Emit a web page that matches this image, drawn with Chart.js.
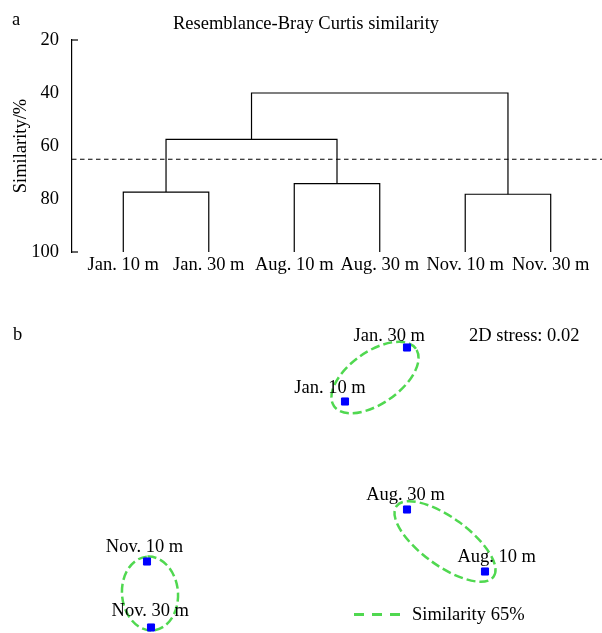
<!DOCTYPE html>
<html>
<head>
<meta charset="utf-8">
<script src="https://cdn.jsdelivr.net/npm/chart.js@4/dist/chart.umd.min.js"></script>
<style>
  html, body { margin: 0; padding: 0; background: #fff; }
  #wrap { position: relative; width: 602px; height: 633px; }
  canvas { position: absolute; left: 0; }
  #dendro { top: 0; }
  #nmds { top: 290px; }
</style>
</head>
<body>
<div id="wrap">
  <canvas id="dendro" width="602" height="290"></canvas>
  <canvas id="nmds" width="602" height="343"></canvas>
</div>
<script>
const samples = ["Jan. 10 m", "Jan. 30 m", "Aug. 10 m", "Aug. 30 m", "Nov. 10 m", "Nov. 30 m"];

// cluster tree, Bray-Curtis similarity %
const pairSimilarity = [77.4, 74.2, 78.2];   // Jan, Aug, Nov pairs
const janAugSimilarity = 57.5;
const rootSimilarity = 40;
const cutOff = 65;
const simTicks = [20, 40, 60, 80, 100];

// nMDS
const nmdsX = [0.22, 0.53, 0.92, 0.53, -0.77, -0.75];
const nmdsY = [0.30, 0.57, -0.55, -0.24, -0.50, -0.83];
const stress = 0.02;

// 65% groups: centre, semi axes, angle
const groupCx = [0.37, 0.72, -0.755];
const groupCy = [0.42, -0.40, -0.66];
const groupA = [0.25, 0.30, 0.185];
const groupB = [0.13, 0.12, 0.14];
const groupAngle = [35, -36, 95];

const black = "#000";
const green = "#50d850";
const blue = "#0000ff";
const font = { family: "'Liberation Serif', 'Times New Roman', serif", size: 18.5, weight: "normal" };
const fontStr = "18.5px 'Liberation Serif', 'Times New Roman', serif";

// ---- a: dendrogram ----
const xMin = -0.6, xMax = 5.6;
const mid = (a, b) => (a + b) / 2;

const links = [];
pairSimilarity.forEach((h, i) => {
  const l = 2 * i, r = 2 * i + 1;
  links.push([{ x: l, y: 100 }, { x: l, y: h }, { x: r, y: h }, { x: r, y: 100 }]);
});
const janMid = mid(0, 1), augMid = mid(2, 3), novMid = mid(4, 5);
links.push([
  { x: janMid, y: pairSimilarity[0] }, { x: janMid, y: janAugSimilarity },
  { x: augMid, y: janAugSimilarity }, { x: augMid, y: pairSimilarity[1] }
]);
const janAugMid = mid(janMid, augMid);
links.push([
  { x: janAugMid, y: janAugSimilarity }, { x: janAugMid, y: rootSimilarity },
  { x: novMid, y: rootSimilarity }, { x: novMid, y: pairSimilarity[2] }
]);

const treeSets = links.map(pts => ({
  data: pts, showLine: true, borderColor: black, borderWidth: 1.2,
  pointRadius: 0, tension: 0, fill: false
}));
treeSets.push({
  data: [{ x: xMin, y: cutOff }, { x: xMax, y: cutOff }],
  showLine: true, borderColor: black, borderWidth: 1.2, borderDash: [4.5, 3.5],
  pointRadius: 0, fill: false
});

const dendroDecor = {
  id: "dendroDecor",
  afterDraw(chart) {
    const { ctx, chartArea, scales } = chart;
    ctx.save();
    ctx.strokeStyle = black;
    ctx.lineWidth = 1.2;
    [scales.y.min, scales.y.max].forEach(v => {
      const y = scales.y.getPixelForValue(v);
      ctx.beginPath();
      ctx.moveTo(chartArea.left, y);
      ctx.lineTo(chartArea.left + 6, y);
      ctx.stroke();
    });
    ctx.fillStyle = black;
    ctx.font = fontStr;
    ctx.textBaseline = "alphabetic";
    ctx.fillText("a", 12, 25);
    ctx.restore();
  }
};

new Chart(document.getElementById("dendro"), {
  type: "scatter",
  data: { datasets: treeSets },
  options: {
    responsive: false,
    animation: false,
    layout: { padding: { left: 10, top: 0, right: 0, bottom: 0 }, autoPadding: false },
    scales: {
      x: {
        type: "linear", min: xMin, max: xMax,
        grid: { display: false, drawTicks: false },
        border: { display: false },
        afterBuildTicks: s => { s.ticks = samples.map((_, i) => ({ value: i })); },
        afterFit: s => { s.height = 38; },
        ticks: { padding: 2, autoSkip: false, maxRotation: 0, color: black, font, callback: v => samples[v] }
      },
      y: {
        reverse: true, min: 20, max: 100,
        afterBuildTicks: s => { s.ticks = simTicks.map(v => ({ value: v })); },
        afterFit: s => { s.width = 62; },
        grid: { display: false, drawTicks: false },
        border: { display: true, color: black, width: 1.2 },
        ticks: { padding: 13, color: black, font },
        title: { display: true, text: "Similarity/%", color: black, font, padding: { top: 0, bottom: 0 } }
      }
    },
    plugins: {
      legend: { display: false },
      tooltip: { enabled: false },
      title: {
        display: true, text: "Resemblance-Bray Curtis similarity", color: black, font,
        padding: { top: 12.7, bottom: 5.1 }
      }
    }
  },
  plugins: [dendroDecor]
});

// ---- b: nMDS ----
const labelDx = [-15, -17.7, 11.7, -1.5, -2.5, -0.7];
const labelDy = [-8.6, -7, -10, -10, -10, -11.7];

const nmdsDecor = {
  id: "nmdsDecor",
  beforeDatasetsDraw(chart) {
    const { ctx, scales } = chart;
    const kx = Math.abs(scales.x.getPixelForValue(1) - scales.x.getPixelForValue(0));
    const ky = Math.abs(scales.y.getPixelForValue(1) - scales.y.getPixelForValue(0));
    ctx.save();
    ctx.strokeStyle = green;
    ctx.lineWidth = 2.5;
    ctx.setLineDash([9, 4]);
    groupCx.forEach((cx, i) => {
      ctx.save();
      ctx.translate(scales.x.getPixelForValue(cx), scales.y.getPixelForValue(groupCy[i]));
      ctx.scale(kx, -ky);
      ctx.rotate(groupAngle[i] * Math.PI / 180);
      ctx.beginPath();
      ctx.ellipse(0, 0, groupA[i], groupB[i], 0, 0, 2 * Math.PI);
      ctx.restore();
      ctx.stroke();
    });
    ctx.restore();
  },
  afterDatasetsDraw(chart) {
    const { ctx } = chart;
    const pts = chart.getDatasetMeta(0).data;
    ctx.save();
    ctx.fillStyle = black;
    ctx.font = fontStr;
    ctx.textBaseline = "alphabetic";
    ctx.textAlign = "center";
    pts.forEach((p, i) => ctx.fillText(samples[i], p.x + labelDx[i], p.y + labelDy[i]));

    ctx.textAlign = "left";
    ctx.fillText("b", 13, 50);
    ctx.fillText("2D stress: " + stress.toFixed(2), 469, 51);

    // legend
    ctx.strokeStyle = green;
    ctx.lineWidth = 3;
    ctx.setLineDash([10, 8]);
    ctx.beginPath();
    ctx.moveTo(354, 324.5);
    ctx.lineTo(400, 324.5);
    ctx.stroke();
    ctx.fillText("Similarity " + cutOff + "%", 412, 330);
    ctx.restore();
  }
};

new Chart(document.getElementById("nmds"), {
  type: "scatter",
  data: {
    datasets: [{
      data: samples.map((s, i) => ({ x: nmdsX[i], y: nmdsY[i] })),
      pointStyle: "rect", pointRadius: 5, pointHoverRadius: 5,
      backgroundColor: blue, borderColor: blue, borderWidth: 1
    }]
  },
  options: {
    responsive: false,
    animation: false,
    layout: { padding: 0, autoPadding: false },
    scales: {
      x: { display: false, min: -1.505, max: 1.505 },
      y: { display: false, min: -0.8575, max: 0.8575 }
    },
    plugins: { legend: { display: false }, tooltip: { enabled: false } }
  },
  plugins: [nmdsDecor]
});
</script>
</body>
</html>
